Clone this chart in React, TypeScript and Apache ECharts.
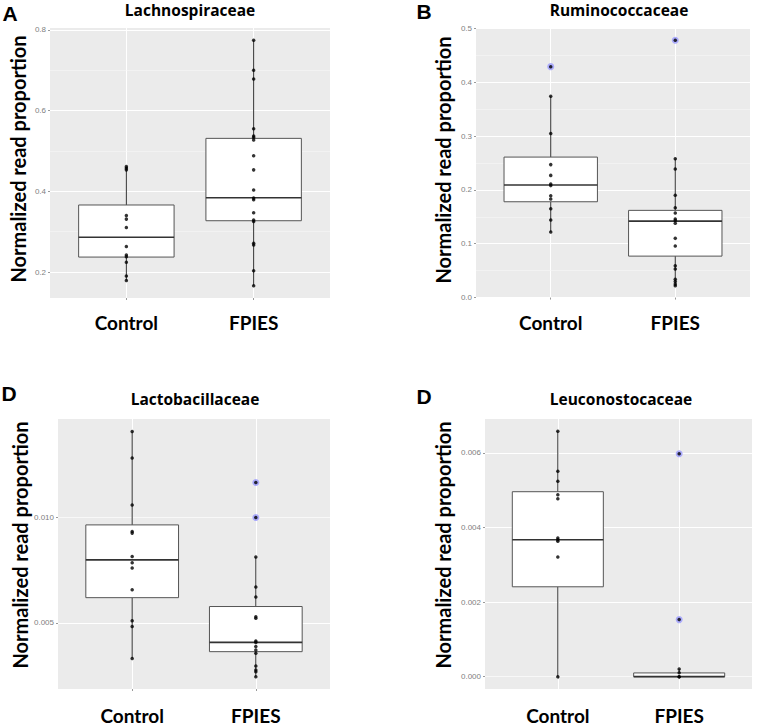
import React, { useEffect, useRef } from "react";
import * as echarts from "echarts";

const categories = ["Control", "FPIES"];

// Panel A – Lachnospiraceae
const lachnoControl = [0.461, 0.457, 0.453, 0.34, 0.331, 0.31, 0.263, 0.242, 0.238, 0.224, 0.19, 0.179];
const lachnoFpies = [0.774, 0.7, 0.678, 0.555, 0.537, 0.533, 0.527, 0.488, 0.453, 0.403, 0.383, 0.379, 0.347, 0.329, 0.325, 0.271, 0.267, 0.203, 0.166];
const lachnoBoxes = [
  [0.179, 0.237, 0.286, 0.366, 0.461],
  [0.166, 0.327, 0.384, 0.531, 0.774],
];
const lachnoOutliers: number[][] = [[], []];
const lachnoTicks = [0.2, 0.4, 0.6, 0.8];
const lachnoMinor = [0.3, 0.5, 0.7];
const lachnoRange = [0.1356, 0.8044];

// Panel B – Ruminococcaceae
const rumiControl = [0.429, 0.374, 0.305, 0.247, 0.227, 0.211, 0.208, 0.189, 0.183, 0.165, 0.144, 0.122];
const rumiFpies = [0.478, 0.258, 0.239, 0.19, 0.167, 0.157, 0.146, 0.143, 0.138, 0.11, 0.096, 0.059, 0.053, 0.034, 0.03, 0.025, 0.022];
const rumiBoxes = [
  [0.122, 0.178, 0.209, 0.261, 0.374],
  [0.022, 0.077, 0.142, 0.162, 0.258],
];
const rumiOutliers = [[0.429], [0.478]];
const rumiTicks = [0.0, 0.1, 0.2, 0.3, 0.4, 0.5];
const rumiMinor = [0.05, 0.15, 0.25, 0.35, 0.45];
const rumiRange = [-0.0008, 0.5008];

// Panel C – Lactobacillaceae
const lactoControl = [0.01408, 0.01282, 0.01059, 0.00934, 0.00926, 0.00815, 0.00786, 0.00761, 0.00658, 0.00511, 0.00483, 0.00332];
const lactoFpies = [0.01166, 0.01, 0.00813, 0.00671, 0.00623, 0.0053, 0.00522, 0.00415, 0.00408, 0.00388, 0.00372, 0.00356, 0.00296, 0.00277, 0.00269, 0.00245];
const lactoBoxes = [
  [0.00332, 0.0062, 0.00799, 0.00965, 0.01408],
  [0.00245, 0.00364, 0.00408, 0.00578, 0.00813],
];
const lactoOutliers = [[], [0.01166, 0.01]];
const lactoTicks = [0.005, 0.01];
const lactoMinor = [0.0025, 0.0075, 0.0125];
const lactoRange = [0.00187, 0.01467];

// Panel D – Leuconostocaceae
const leucoControl = [0.00658, 0.00551, 0.00524, 0.00488, 0.00477, 0.00372, 0.00367, 0.00363, 0.00321, 0.0];
const leucoFpies = [0.00598, 0.00153, 0.000206, 0.000107, 0.0, 0.0];
const leucoBoxes = [
  [0.0, 0.00241, 0.00367, 0.00496, 0.00658],
  [0.0, 0.0, 0.0, 0.0001, 0.000206],
];
const leucoOutliers = [[], [0.00598, 0.00153]];
const leucoTicks = [0.0, 0.002, 0.004, 0.006];
const leucoMinor = [0.001, 0.003, 0.005];
const leucoRange = [-0.000331, 0.00691];

const panels = [
  { letter: "A", title: "Lachnospiraceae", control: lachnoControl, fpies: lachnoFpies, boxes: lachnoBoxes, outliers: lachnoOutliers, ticks: lachnoTicks, minor: lachnoMinor, range: lachnoRange, decimals: 1,
    grid: { left: 50, top: 28, width: 280, height: 270 }, yLabel: [18, 159], titlePos: [190, 10], letterPos: [10, 13], xMargin: 15 },
  { letter: "B", title: "Ruminococcaceae", control: rumiControl, fpies: rumiFpies, boxes: rumiBoxes, outliers: rumiOutliers, ticks: rumiTicks, minor: rumiMinor, range: rumiRange, decimals: 1,
    grid: { left: 476, top: 28, width: 274, height: 270 }, yLabel: [443, 160], titlePos: [619, 10], letterPos: [424, 11], xMargin: 15 },
  { letter: "D", title: "Lactobacillaceae", control: lactoControl, fpies: lactoFpies, boxes: lactoBoxes, outliers: lactoOutliers, ticks: lactoTicks, minor: lactoMinor, range: lactoRange, decimals: 3,
    grid: { left: 58, top: 419, width: 272, height: 270 }, yLabel: [20, 545], titlePos: [195, 399], letterPos: [9, 393], xMargin: 17 },
  { letter: "D", title: "Leuconostocaceae", control: leucoControl, fpies: leucoFpies, boxes: leucoBoxes, outliers: leucoOutliers, ticks: leucoTicks, minor: leucoMinor, range: leucoRange, decimals: 3,
    grid: { left: 485, top: 419, width: 267, height: 270 }, yLabel: [443, 545], titlePos: [621, 399], letterPos: [424, 396], xMargin: 17 },
];

const FONT = "Lato, 'Liberation Sans', sans-serif";

export default function App() {
  const ref = useRef<HTMLDivElement>(null);
  useEffect(() => {
    document.body.style.margin = "0";
    if (!ref.current) return;
    const chart = echarts.init(ref.current, undefined, { renderer: "svg" });

    const grids: any[] = [];
    const xAxes: any[] = [];
    const yAxes: any[] = [];
    const series: any[] = [];
    const graphics: any[] = [];

    panels.forEach((p, i) => {
      grids.push({ ...p.grid, show: true, backgroundColor: "#EBEBEB", borderWidth: 0, containLabel: false });
      xAxes.push({
        type: "value", gridIndex: i, min: 0.4, max: 2.6,
        axisLine: { show: false },
        axisTick: { show: true, length: 2, customValues: [1, 2], lineStyle: { color: "#7f7f7f", width: 0.8 } },
        axisLabel: { customValues: [1, 2], margin: p.xMargin, formatter: (v: number) => categories[Math.round(v) - 1] ?? "",
          color: "#000", fontSize: 19, fontWeight: "bold", fontFamily: FONT },
        splitLine: { show: true, lineStyle: { color: "#ffffff", width: 1 } },
      });
      yAxes.push({
        type: "value", gridIndex: i, min: p.range[0], max: p.range[1],
        axisLine: { show: false },
        axisTick: { show: true, length: 2, customValues: p.ticks, lineStyle: { color: "#7f7f7f", width: 0.8 } },
        axisLabel: { customValues: p.ticks, margin: 4, formatter: (v: number) => v.toFixed(p.decimals),
          color: "#808080", fontSize: 8, fontFamily: "'Liberation Sans', Arial, sans-serif" },
        splitLine: { show: true, lineStyle: { color: "#ffffff", width: 1 } },
      });

      series.push({
        type: "custom", xAxisIndex: i, yAxisIndex: i, silent: true,
        data: p.boxes.map((b, k) => [k + 1, ...b]),
        encode: { x: 0, y: [1, 2, 3, 4, 5] },
        markLine: {
          silent: true, symbol: ["none", "none"], label: { show: false },
          lineStyle: { color: "#f7f7f7", width: 0.6, type: "solid" },
          data: p.minor.map((v) => ({ yAxis: v })),
          z: 0,
        },
        renderItem: (_params: any, api: any) => {
          const x = api.value(0);
          const lo = api.coord([x, api.value(1)]);
          const q1 = api.coord([x, api.value(2)]);
          const md = api.coord([x, api.value(3)]);
          const q3 = api.coord([x, api.value(4)]);
          const hi = api.coord([x, api.value(5)]);
          const w = api.size([0.75, 0])[0];
          const stroke = "#333333";
          return {
            type: "group",
            children: [
              { type: "line", shape: { x1: lo[0], y1: lo[1], x2: q1[0], y2: q1[1] }, style: { stroke, lineWidth: 1 } },
              { type: "line", shape: { x1: q3[0], y1: q3[1], x2: hi[0], y2: hi[1] }, style: { stroke, lineWidth: 1 } },
              { type: "rect", shape: { x: q3[0] - w / 2, y: q3[1], width: w, height: Math.max(q1[1] - q3[1], 0.5) }, style: { fill: "#ffffff", stroke: "#555555", lineWidth: 1 } },
              { type: "line", shape: { x1: md[0] - w / 2, y1: md[1], x2: md[0] + w / 2, y2: md[1] }, style: { stroke, lineWidth: 1.6 } },
            ],
          };
        },
      });

      const outlierData: number[][] = [];
      p.outliers.forEach((arr, k) => arr.forEach((v) => outlierData.push([k + 1, v])));
      series.push({
        type: "scatter", xAxisIndex: i, yAxisIndex: i, silent: true,
        symbol: "circle", symbolSize: 7,
        itemStyle: { color: "#9a9aff" },
        data: outlierData,
      });
      series.push({
        type: "scatter", xAxisIndex: i, yAxisIndex: i, silent: true,
        symbol: "circle", symbolSize: 3.5,
        itemStyle: { color: "#000000" },
        data: [...p.control.map((v) => [1, v]), ...p.fpies.map((v) => [2, v])],
      });

      graphics.push({
        type: "text", x: p.titlePos[0], y: p.titlePos[1],
        style: { text: p.title, fontSize: 15.5, fontWeight: "bold", fill: "#000", fontFamily: "'Open Sans', sans-serif", textAlign: "center", textVerticalAlign: "middle" },
      });
      graphics.push({
        type: "text", x: p.letterPos[0], y: p.letterPos[1],
        style: { text: p.letter, fontSize: 21, fontWeight: "bold", fill: "#000", fontFamily: "'Liberation Sans', Arial, sans-serif", textAlign: "center", textVerticalAlign: "middle" },
      });
      graphics.push({
        type: "text", x: p.yLabel[0], y: p.yLabel[1], rotation: Math.PI / 2,
        style: { text: "Normalized read proportion", fontSize: 20, fontWeight: "bold", fill: "#000", fontFamily: FONT, textAlign: "center", textVerticalAlign: "middle" },
      });
    });

    chart.setOption({
      animation: false,
      backgroundColor: "#ffffff",
      grid: grids,
      xAxis: xAxes,
      yAxis: yAxes,
      series,
      graphic: graphics,
    });
    return () => chart.dispose();
  }, []);
  return <div ref={ref} style={{ width: 759, height: 728 }} />;
}
